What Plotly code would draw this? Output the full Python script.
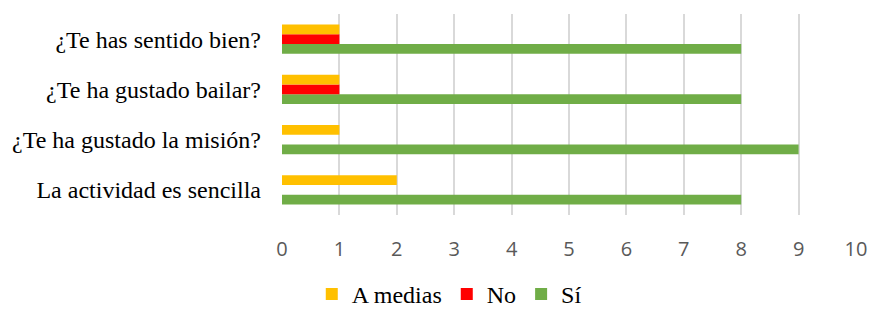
import plotly.graph_objects as go

categories = ["La actividad es sencilla", "¿Te ha gustado la misión?", "¿Te ha gustado bailar?", "¿Te has sentido bien?"]
a_medias = [2, 1, 1, 1]
no_vals = [0, 0, 1, 1]
si_vals = [8, 9, 8, 8]
x_ticks = list(range(0, 11))

fig = go.Figure()
fig.add_trace(go.Bar(y=categories, x=si_vals, name="Sí", orientation="h", marker=dict(color="#70AD47", line=dict(width=0))))
fig.add_trace(go.Bar(y=categories, x=no_vals, name="No", orientation="h", marker=dict(color="#FF0000", line=dict(width=0))))
fig.add_trace(go.Bar(y=categories, x=a_medias, name="A medias", orientation="h", marker=dict(color="#FFC000", line=dict(width=0))))

fig.update_layout(
    width=869, height=309,
    margin=dict(l=282, r=13, t=14, b=94),
    paper_bgcolor="white", plot_bgcolor="white",
    barmode="group", bargap=0.42, bargroupgap=0,
    showlegend=True,
    legend=dict(orientation="h", traceorder="reversed",
                xref="container", x=0.517, xanchor="center",
                yref="container", y=0.047, yanchor="middle",
                font=dict(family="Liberation Serif", size=24, color="black"), itemwidth=30),
    xaxis=dict(range=[0, 10], tickvals=x_ticks, showgrid=True, gridcolor="#D9D9D9", gridwidth=1.5,
               zeroline=False, showline=False, ticks="", automargin=False,
               tickfont=dict(family="Open Sans", size=20, color="#595959"), ticklabelstandoff=20),
    yaxis=dict(categoryorder="array", categoryarray=categories, showgrid=False, zeroline=False, showline=False,
               ticks="", automargin=False,
               tickfont=dict(family="Liberation Serif", size=24, color="black"), ticklabelstandoff=20),
)
fig.write_html("out.html", config={"displayModeBar": False},
               post_script="document.body.style.margin='0';document.body.style.overflow='hidden';")
